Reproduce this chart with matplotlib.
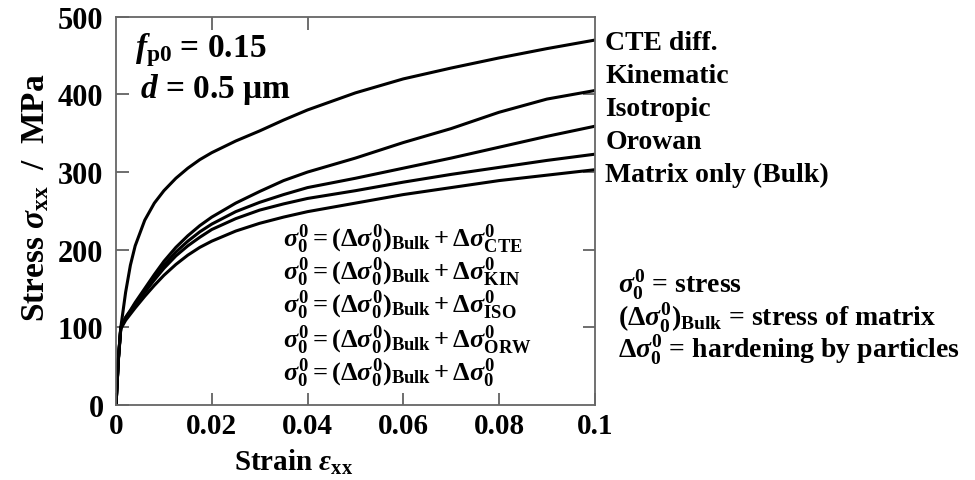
import matplotlib
matplotlib.use('Agg')
from matplotlib import pyplot as plt

plt.rcParams['font.family'] = ['Liberation Serif', 'DejaVu Serif']
plt.rcParams['font.weight'] = 'bold'
plt.rcParams['mathtext.fontset'] = 'custom'
plt.rcParams['mathtext.rm'] = 'Liberation Serif:bold'
plt.rcParams['mathtext.it'] = 'Liberation Serif:bold:italic'
plt.rcParams['mathtext.bf'] = 'Liberation Serif:bold'

# strain values
strain = [0, 0.0005, 0.001, 0.002, 0.003, 0.004, 0.006, 0.008, 0.01, 0.0125,
          0.015, 0.0175, 0.02, 0.025, 0.03, 0.035, 0.04, 0.05, 0.06, 0.07,
          0.08, 0.09, 0.1]

# stress in MPa
cte = [0, 60, 100, 145, 180, 205, 238, 260, 276, 292, 305, 316, 325, 340,
       353, 367, 380, 402, 420, 434, 447, 459, 470]
kinematic = [0, 60, 100, 113, 122, 132, 150, 168, 185, 203, 218, 231, 242,
             260, 275, 289, 300, 318, 338, 356, 377, 394, 405]
isotropic = [0, 60, 100, 112, 121, 130, 147, 164, 180, 197, 211, 223, 233,
             249, 261, 271, 280, 292, 305, 318, 332, 346, 359]
orowan = [0, 60, 100, 111, 120, 129, 145, 161, 176, 192, 205, 216, 226,
          240, 251, 259, 266, 276, 287, 297, 306, 315, 323]
bulk = [0, 58, 98, 109, 117, 125, 140, 154, 167, 181, 193, 203, 211,
        224, 234, 242, 249, 260, 271, 280, 289, 296, 303]

series = [cte, kinematic, isotropic, orowan, bulk]
names = ['CTE diff.', 'Kinematic', 'Isotropic', 'Orowan', 'Matrix only (Bulk)']
eq_subs = ['CTE', 'KIN', 'ISO', 'ORW', None]

xticks = [0, 0.02, 0.04, 0.06, 0.08, 0.1]
xticklabels = ['0', '0.02', '0.04', '0.06', '0.08', '0.1']
yticks = [0, 100, 200, 300, 400, 500]

fig = plt.figure(figsize=(9.75, 4.81), dpi=100)
ax = fig.add_axes([0.119, 0.156, 0.491, 0.807])

for s in series:
    ax.plot(strain, s, color='black', linewidth=2.2, solid_capstyle='round')

ax.set_xlim(0, 0.1)
ax.set_ylim(0, 500)
ax.set_xticks(xticks)
ax.set_xticklabels(xticklabels)
ax.set_yticks(yticks)
ax.tick_params(direction='in', length=9, width=1.2, color='#555555',
               top=True, right=True)
ax.tick_params(axis='x', labelsize=21, pad=5)
ax.tick_params(axis='y', labelsize=22, pad=9)
for lab in ax.get_xticklabels() + ax.get_yticklabels():
    lab.set_fontweight('bold')
for sp in ax.spines.values():
    sp.set_color('#666666')
    sp.set_linewidth(1.3)

# only two top ticks are visible in the picture
for i, t in enumerate(ax.xaxis.get_major_ticks()):
    if i in (1, 2):
        t.tick2line.set_color('#7799cc')
    else:
        t.tick2line.set_visible(False)
for i, t in enumerate(ax.yaxis.get_major_ticks()):
    if i in (0, 5):
        t.tick2line.set_visible(False)

ax.set_xlabel(r'Strain $\varepsilon_{\rm xx}$', fontsize=21, fontweight='bold')
ax.xaxis.set_label_coords(0.37, -0.108)
ax.set_ylabel(r'Stress $\sigma_{\rm xx}$  /  MPa', fontsize=24, fontweight='bold')
ax.yaxis.set_label_coords(-0.135, 0.536)

ax.text(0.04, 0.918, r'$f_{\rm p0}$ = 0.15', transform=ax.transAxes,
        fontsize=24, fontweight='bold', va='center')
ax.text(0.05, 0.815, r'$d$ = 0.5 $\mathrm{\mu}$m', transform=ax.transAxes,
        fontsize=24, fontweight='bold', va='center')

# curve labels to the right of the axes
label_y = [0.933, 0.848, 0.763, 0.678, 0.593]
for name, y in zip(names, label_y):
    ax.text(1.022, y, name, transform=ax.transAxes, fontsize=20,
            fontweight='bold', va='center')

# equations inside the axes
eq_y = [0.428, 0.345, 0.26, 0.17, 0.085]
for sub, y in zip(eq_subs, eq_y):
    tail = r'\Delta\sigma^{0}_{\rm ' + sub + '}' if sub else r'\Delta\sigma^{0}_{0}'
    txt = r'$\sigma^{0}_{0} = (\Delta\sigma^{0}_{0})_{\rm Bulk} + ' + tail + '$'
    ax.text(0.349, y, txt, transform=ax.transAxes, fontsize=19, va='center')

# definitions on the right
defs = [r'$\sigma^{0}_{0}$ = stress',
        r'$(\Delta\sigma^{0}_{0})_{\rm Bulk}$ = stress of matrix',
        r'$\Delta\sigma^{0}_{0}$ = hardening by particles']
def_y = [0.312, 0.227, 0.144]
for d, y in zip(defs, def_y):
    ax.text(1.048, y, d, transform=ax.transAxes, fontsize=20,
            fontweight='bold', va='center')

fig.savefig('out.png', dpi=100)
